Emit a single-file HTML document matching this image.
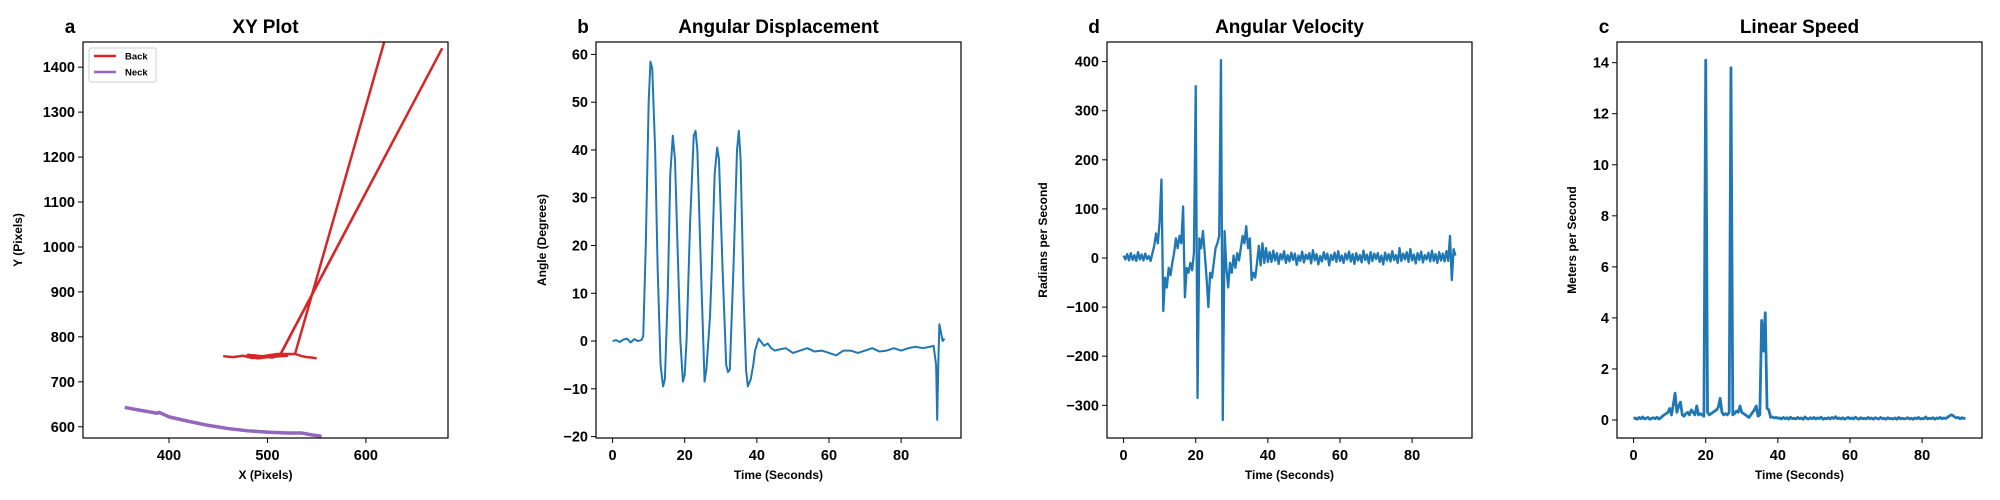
<!DOCTYPE html>
<html><head><meta charset="utf-8"><style>
html,body{margin:0;padding:0;background:#fff}
svg{display:block;font-family:"Liberation Sans",Arial,sans-serif}
</style></head><body>
<svg id="fig" width="2000" height="500" viewBox="0 0 2000 500"></svg>
<script>
// ---- data ----
const backX=[455,465,475,485,495,505,513,677,513,520,500,490,480,495,510,528,640,528,535,540,545,550];
const backY=[757,755,758,753,756,754,760,1440,761,758,755,752,760,757,762,762,1620,762,757,755,754,752];
const neckX=[355,370,388,390,400,420,440,460,480,500,520,535,545,555];
const neckY=[643,637,630,632,622,612,603,596,591,588,586,586,582,579];
const xyXTicks=[400,500,600];
const xyYTicks=[600,700,800,900,1000,1100,1200,1300,1400];

const angT=[0,1,2,3,4,5,6,7,8,8.5,9.2,10,10.5,11,11.8,12.5,13.3,14,14.5,15.3,16,16.7,17.3,18,18.8,19.5,20,20.5,21.5,22.5,23,23.5,24.5,25.5,26,27,27.5,28.3,29,29.5,30.5,31.5,32,32.5,33.5,34.5,35,35.5,36.3,37,37.5,38.3,39,39.5,40.5,41,42,43,44,45,46,48,50,52,54,56,58,60,62,64,66,68,70,72,74,76,78,80,82,84,86,88,89,89.7,90,90.3,90.6,91,91.5,92];
const angV=[0,0.2,-0.2,0.3,0.5,-0.3,0.4,0,0.2,1,20,50,58.5,57,40,15,-5,-9.5,-8,10,35,43,38,20,0,-8.5,-7,0,25,43,44,40,15,-8.5,-6,5,15,35,40.5,38,15,-5,-6.5,-6,15,40,44,38,10,-6,-9.5,-8,-5,-2,0.5,0,-1,-0.5,-1.5,-2,-1.8,-1.5,-2.5,-2,-1.5,-2.2,-2,-2.5,-3,-2,-2,-2.5,-2,-1.5,-2.2,-2,-1.5,-2,-1.5,-1.2,-1.5,-1.2,-1,-5,-16.5,-5,3.5,2,0,0.5];

const sampleDt=0.5;
const velV=[5,-3,8,-5,10,-4,6,-6,12,-3,7,-5,9,-2,4,-6,
10,25,50,30,75,160,-108,-40,-60,-20,
-35,-10,10,40,20,45,30,105,-80,-20,
-30,-10,-25,10,350,-285,40,20,55,10,
-40,-100,-30,-40,-10,20,30,45,403,-330,
55,-20,-60,-10,-30,5,-20,10,-5,20,
45,30,65,20,40,-45,-30,-40,-10,25,
-15,30,-10,20,-8,
12,-8,15,-5,10,-12,8,-3,14,-10,
6,-7,11,-4,9,-14,5,-6,13,-9,
7,-2,10,-11,16,-5,8,-13,4,-7,
12,-3,9,-15,6,-4,11,-8,14,-6,
5,-10,9,-3,13,-7,8,-12,10,-5,
6,-9,15,-4,7,-11,12,-6,9,-2,
10,-8,5,-13,11,-5,8,-7,14,-4,
6,-10,20,-6,9,-3,12,-8,18,-5,
7,-11,10,-4,13,-9,6,-3,11,-7,
15,-6,8,-10,12,-5,9,-7,14,-6,
45,-45,18,5];
const spdV=[0.05,0.08,0.03,0.1,0.05,0.12,0.04,0.07,0.1,0.03,0.06,0.09,0.05,0.11,0.04,0.08,
0.15,0.2,0.25,0.3,0.45,0.2,0.6,1.05,0.3,0.55,
0.7,0.2,0.15,0.25,0.3,0.2,0.4,0.3,0.2,0.55,
0.2,0.25,0.2,0.15,14.1,0.3,0.2,0.25,0.3,0.35,
0.4,0.5,0.85,0.3,0.2,0.25,0.2,0.3,13.8,0.2,
0.25,0.35,0.3,0.55,0.3,0.25,0.2,0.15,0.1,0.2,
0.3,0.4,0.55,0.15,0.2,3.9,2.7,4.2,0.45,0.4,
0.1,0.12,0.08,0.1,0.07,
0.08,0.04,0.1,0.05,0.09,0.03,0.11,0.05,0.07,0.04,
0.1,0.05,0.08,0.03,0.12,0.06,0.04,0.09,0.05,0.1,
0.04,0.08,0.06,0.11,0.03,0.07,0.05,0.09,0.04,0.1,
0.06,0.13,0.05,0.08,0.04,0.09,0.03,0.07,0.1,0.05,
0.08,0.04,0.11,0.06,0.03,0.09,0.05,0.07,0.04,0.1,
0.05,0.08,0.03,0.09,0.06,0.04,0.1,0.05,0.07,0.03,
0.09,0.05,0.06,0.04,0.08,0.03,0.1,0.05,0.07,0.04,
0.06,0.09,0.04,0.07,0.03,0.08,0.05,0.1,0.04,0.06,
0.05,0.12,0.04,0.07,0.05,0.09,0.03,0.08,0.06,0.1,
0.05,0.08,0.06,0.1,0.15,0.2,0.18,0.12,0.08,0.1,
0.05,0.09,0.06,0.08];
const timeTicks=[0,20,40,60,80];
const angTicks=[-20,-10,0,10,20,30,40,50,60];
const velTicks=[-300,-200,-100,0,100,200,300,400];
const spdTicks=[0,2,4,6,8,10,12,14];

// ---- drawing ----
const NS='http://www.w3.org/2000/svg';
const svg=document.getElementById('fig');
function mk(tag,attrs,parent){const e=document.createElementNS(NS,tag);for(const k in attrs)e.setAttribute(k,attrs[k]);(parent||svg).appendChild(e);return e;}
const TOP=42,BOT=438,W=365;

function panel(key,left,xd,yd,xt,yt,title,letter,xlab,ylab,ylabX){
  const g=mk('g',{});
  
  
  const sx=v=>left+(v-xd[0])/(xd[1]-xd[0])*W;
  const sy=v=>BOT-(v-yd[0])/(yd[1]-yd[0])*(BOT-TOP);
  const cp=mk('clipPath',{id:'clip-'+key},g);
  mk('rect',{x:left,y:TOP,width:W,height:BOT-TOP},cp);
  xt.forEach(v=>{const x=sx(v);
    const t=mk('line',{x1:x,x2:x,y1:BOT,y2:BOT+5,stroke:'#000','stroke-width':1},g);
    
    const l=mk('text',{x:x,y:BOT+22,'text-anchor':'middle','font-size':14.5,'font-weight':'bold'},g);
    l.textContent=String(v);
    });
  yt.forEach(v=>{const y=sy(v);
    const t=mk('line',{x1:left-5,x2:left,y1:y,y2:y,stroke:'#000','stroke-width':1},g);
    
    const l=mk('text',{x:left-8,y:y+5,'text-anchor':'end','font-size':14.5,'font-weight':'bold'},g);
    l.textContent=(v<0?'\u2212'+(-v):String(v));
    });
  const ti=mk('text',{x:left+W/2,y:33,'text-anchor':'middle','font-size':19,'font-weight':'bold'},g);
  ti.textContent=title;
  const le=mk('text',{x:left-13,y:33,'text-anchor':'middle','font-size':19,'font-weight':'bold'},g);
  le.textContent=letter;
  const xl=mk('text',{x:left+W/2,y:479,'text-anchor':'middle','font-size':12,'font-weight':'bold'},g);
  xl.textContent=xlab;
  const yl=mk('text',{x:ylabX,y:(TOP+BOT)/2,'text-anchor':'middle','font-size':12,'font-weight':'bold',transform:'rotate(-90 '+ylabX+' '+(TOP+BOT)/2+')'},g);
  yl.textContent=ylab;
  return {g,sx,sy,left,frame:()=>{const f=mk('rect',{x:left,y:TOP,width:W,height:BOT-TOP,fill:'none',stroke:'#000','stroke-width':1.2},g);
    }};
}
function series(p,key,xs,ys,color,w,name){
  let d='';for(let i=0;i<ys.length;i++){d+=(i?'L':'M')+p.sx(xs[i]).toFixed(2)+','+p.sy(ys[i]).toFixed(2);}
  const e=mk('path',{d:d,fill:'none',stroke:color,'stroke-width':w,'stroke-linejoin':'round','clip-path':'url(#clip-'+key+')'},p.g);
  
}
const tdom=[-4.6,96.6];
const uniT=n=>{const a=[];for(let i=0;i<n;i++)a.push(i*sampleDt);return a;};

// panel a
const pa=panel('xy',83,[312.6,683.4],[575,1456],xyXTicks,xyYTicks,'XY Plot','a','X (Pixels)','Y (Pixels)',22);
series(pa,'xy',backX,backY,'#d62728',2.5,'back-line');
series(pa,'xy',neckX,neckY,'#9467bd',3.5,'neck-line');
pa.frame();
const lg=mk('g',{});
mk('rect',{x:89,y:48,width:67,height:34,rx:2,fill:'#fff',stroke:'#ccc','stroke-width':1},lg);
[['Back','#d62728',56],['Neck','#9467bd',72]].forEach(([n,c,y])=>{
  const ge=mk('g',{},lg);
  mk('line',{x1:94,x2:116,y1:y,y2:y,stroke:c,'stroke-width':2.5},ge);
  const t=mk('text',{x:125,y:y+3.5,'font-size':9.5,'font-weight':'bold'},ge);t.textContent=n;});

// panel b
const pb=panel('ang',596,tdom,[-20.3,62.6],timeTicks,angTicks,'Angular Displacement','b','Time (Seconds)','Angle (Degrees)',546);
series(pb,'ang',angT,angV,'#1f77b4',2,'angle-line');pb.frame();
// panel d
const pd=panel('vel',1107,tdom,[-366.6,440],timeTicks,velTicks,'Angular Velocity','d','Time (Seconds)','Radians per Second',1047);
series(pd,'vel',uniT(velV.length),velV,'#1f77b4',2.3,'velocity-line');pd.frame();
// panel c
const pc=panel('spd',1617,tdom,[-0.705,14.81],timeTicks,spdTicks,'Linear Speed','c','Time (Seconds)','Meters per Second',1576);
series(pc,'spd',uniT(spdV.length),spdV,'#1f77b4',2.8,'speed-line');pc.frame();
</script>
</body></html>
